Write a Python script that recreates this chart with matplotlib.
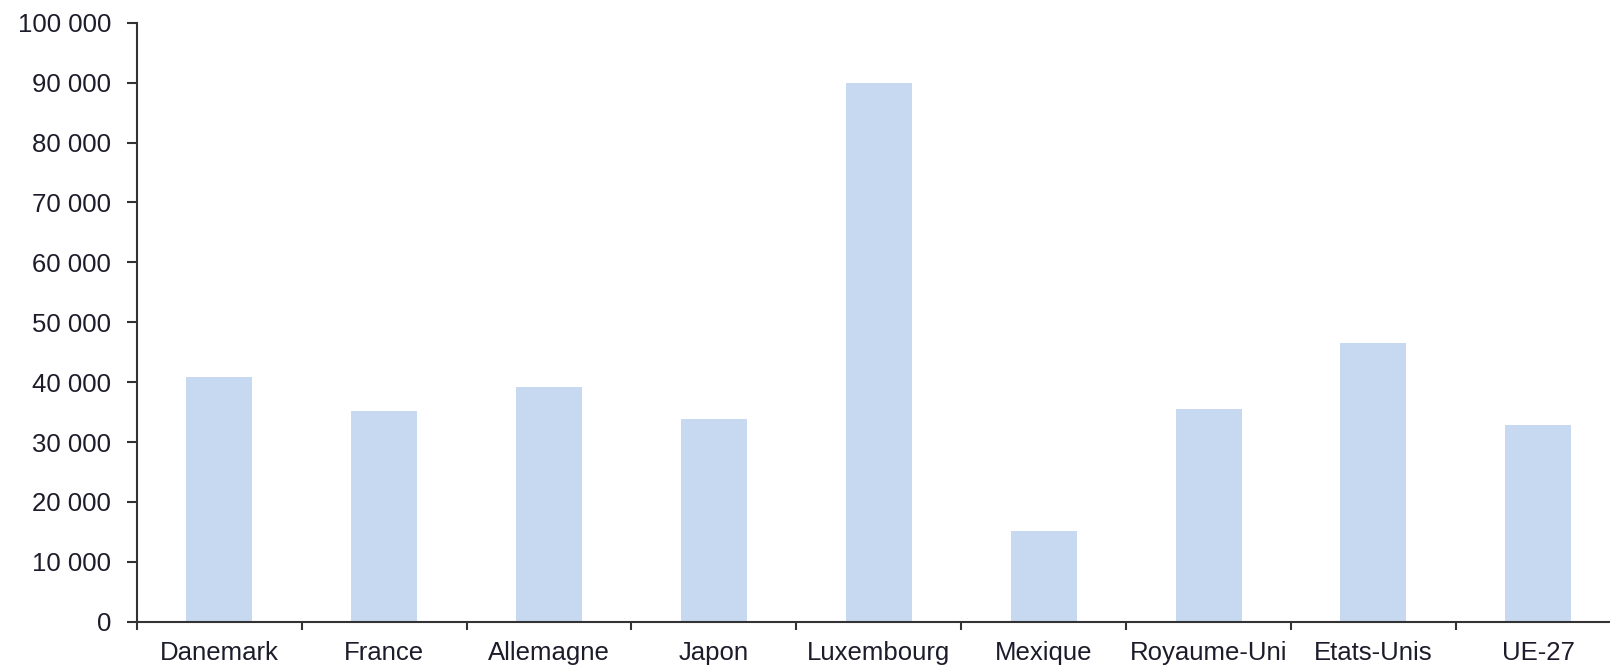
import matplotlib
matplotlib.use("Agg")
import matplotlib.pyplot as plt
from matplotlib.ticker import FuncFormatter, FixedLocator
import numpy as np

plt.rcParams['font.family'] = ['Liberation Sans', 'DejaVu Sans']

# PIB par habitant
pays = ["Danemark", "France", "Allemagne", "Japon", "Luxembourg",
        "Mexique", "Royaume-Uni", "Etats-Unis", "UE-27"]
valeurs = [40900, 35200, 39200, 33900, 90000, 15200, 35500, 46500, 32900]

y_max = 100000
y_pas = 10000

bar_color = "#C6D9F0"
text_color = "#1c1c2a"
axis_color = "#333333"

fig = plt.figure(figsize=(16.1, 6.7), dpi=100)
ax = fig.add_axes([136.7 / 1610, 48.3 / 670, (1620.8 - 136.7) / 1610, 599 / 670])

x = np.arange(len(pays))
ax.bar(x, valeurs, width=0.40, color=bar_color, edgecolor="none", zorder=2)

ax.set_xlim(-0.5, len(pays) - 0.5)
ax.set_ylim(0, y_max)

ax.set_yticks(np.arange(0, y_max + 1, y_pas))
ax.yaxis.set_major_formatter(
    FuncFormatter(lambda v, _: f"{int(v):,}".replace(",", " ")))

ax.set_xticks(x)
ax.set_xticklabels(pays)
ax.xaxis.set_minor_locator(FixedLocator(np.arange(-0.5, len(pays), 1.0)))

ax.tick_params(axis="x", which="major", length=0, pad=14,
               labelsize=18.5, labelcolor=text_color)
ax.tick_params(axis="x", which="minor", length=6, width=1.5,
               direction="out", color=axis_color)
ax.tick_params(axis="y", which="major", length=7.5, width=1.5,
               direction="out", color=axis_color, pad=11,
               labelsize=18.5, labelcolor=text_color)

for side in ("top", "right"):
    ax.spines[side].set_visible(False)
for side in ("left", "bottom"):
    ax.spines[side].set_color(axis_color)
    ax.spines[side].set_linewidth(1.5)

fig.savefig("out.png", dpi=100, facecolor="white")
